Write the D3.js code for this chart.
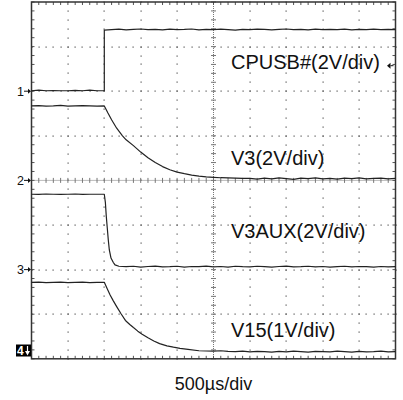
<!DOCTYPE html>
<html><head><meta charset="utf-8">
<script src="https://cdn.jsdelivr.net/npm/d3@7"></script>
<style>body{margin:0;background:#fff}svg{display:block}</style>
</head><body>
<svg id="c" width="403" height="400"></svg>
<script>
// ---- data ----
const channelLabels = ["CPUSB#(2V/div)", "V3(2V/div)", "V3AUX(2V/div)", "V15(1V/div)"];
const channelMarkers = ["1", "2", "3", "4"];
const voltsPerDiv = [2, 2, 2, 1];
const groundDiv = [2, 0, -2, -4];
const timeLabel = "500µs/div";
const timeDomain = [-1000, 4000]; // µs, 10 div x 500µs

const ch1T = [-1000,-900,-800,-700,-600,-500,-400,-300,-200,-100,0,0,100,200,300,400,500,600,700,800,900,1000,1100,1200,1300,1400,1500,1600,1700,1800,1900,2000,2100,2200,2300,2400,2500,2600,2700,2800,2900,3000,3100,3200,3300,3400,3500,3600,3700,3800,3900,4000];
const ch1V = [0.02,0.05,0.02,0.03,0.02,0.02,0.04,0.02,0.05,0.02,0.02,2.74,
  2.76,2.78,2.75,2.77,2.79,2.76,2.77,2.75,2.78,2.76,
  2.77,2.79,2.75,2.77,2.76,2.78,2.76,2.74,2.77,2.76,
  2.78,2.77,2.75,2.77,2.79,2.76,2.77,2.75,2.78,2.76,
  2.77,2.76,2.78,2.75,2.77,2.76,2.78,2.76,2.77,2.76];

const ch2T = [-1000,-900,-800,-700,-600,-500,-400,-300,-200,-100,0,50,100,170,250,300,400,500,600,700,800,900,1000,1100,1200,1300,1400,1500,1600,1700,1800,1900,2000,2100,2200,2300,2400,2500,2600,2700,2800,2900,3000,3100,3200,3300,3400,3500,3600,3700,3800,3900,4000];
const ch2V = [3.34,3.35,3.33,3.34,3.36,3.33,3.34,3.35,3.34,3.33,
  3.34,3.02,2.72,2.34,2.0,1.82,1.56,
  1.27,1.02,0.80,0.62,0.48,0.37,0.30,0.24,0.19,0.16,0.14,0.12,0.11,0.10,0.09,
  0.09,0.06,0.10,0.07,0.11,0.08,0.05,0.10,0.08,0.11,0.07,0.09,0.06,0.10,0.08,0.11,0.07,0.09,0.10,0.07,0.09];

const ch3T = [-1000,-900,-800,-700,-600,-500,-400,-300,-200,-100,0,15,27,40,55,69,92,124,147,200,300,400,500,600,700,800,900,1000,1100,1200,1300,1400,1500,1600,1700,1800,1900,2000,2100,2200,2300,2400,2500,2600,2700,2800,2900,3000,3100,3200,3300,3400,3500,3600,3700,3800,3900,4000];
const ch3V = [3.38,3.37,3.39,3.38,3.37,3.38,3.39,3.37,3.38,3.38,
  3.38,3.0,2.40,1.9,1.33,0.88,0.52,0.32,0.21,0.15,
  0.13,0.15,0.11,0.14,0.16,0.12,0.13,0.15,0.11,0.14,
  0.13,0.16,0.12,0.14,0.11,0.15,0.13,0.12,0.15,0.13,
  0.11,0.14,0.16,0.12,0.13,0.15,0.12,0.14,0.11,0.13,
  0.15,0.12,0.14,0.13,0.11,0.14,0.12,0.13];

const ch4T = [-1000,-900,-800,-700,-600,-500,-400,-300,-200,-100,0,40,80,120,170,230,290,350,400,460,520,600,680,760,860,950,1040,1150,1300,1400,1500,1600,1700,1800,1900,2000,2100,2200,2300,2400,2500,2600,2700,2800,2900,3000,3100,3200,3300,3400,3500,3600,3700,3800,3900,4000];
const ch4V = [1.715,1.72,1.71,1.715,1.72,1.71,1.715,1.72,1.71,1.715,
  1.715,1.57,1.43,1.31,1.17,1.01,0.86,0.77,0.70,0.62,0.55,0.47,0.40,0.34,0.29,0.26,0.235,0.21,0.18,
  0.175,0.17,0.18,0.165,0.16,0.17,0.155,0.165,0.16,0.15,
  0.165,0.155,0.17,0.16,0.15,0.165,0.16,0.155,0.17,0.16,
  0.15,0.165,0.155,0.16,0.17,0.155,0.16];

const traces = [[ch1T,ch1V],[ch2T,ch2V],[ch3T,ch3V],[ch4T,ch4V]];

// ---- drawing ----
const svg = d3.select("#c");
const L = 31.5, R = 395.5, T = 2, B = 358.8;
const x = d3.scaleLinear().domain(timeDomain).range([L, R]);
const y = d3.scaleLinear().domain([-4, 4]).range([B, T]);
const majorT = d3.range(-1000, 4001, 500);
const minorT = d3.range(-1000, 4001, 100);
const majorD = d3.range(-4, 5, 1);
const minorD = d3.range(0, 41).map(i => -4 + i * 0.2);
const centerT = 1500;
const font = "'Liberation Sans', Arial, sans-serif";

const grid = svg.append("g").attr("fill", "#555");
majorT.filter(t => t > -1000 && t < 4000 && t !== centerT).forEach(t => {
  minorD.forEach(d => grid.append("rect").attr("x", Math.round(x(t)) - 0.5).attr("y", Math.round(y(d)) - 0.5).attr("width", 1.2).attr("height", 1.2));
});
majorD.filter(d => d > -4 && d < 4 && d !== 0).forEach(d => {
  minorT.forEach(t => grid.append("rect").attr("x", Math.round(x(t)) - 0.5).attr("y", Math.round(y(d)) - 0.5).attr("width", 1.2).attr("height", 1.2));
});

// centre cross lines
const cg = svg.append("g").attr("stroke", "#777").attr("stroke-width", 1);
cg.append("line").attr("x1", L).attr("x2", R).attr("y1", y(0)).attr("y2", y(0)).attr("stroke-dasharray", "1,1");
cg.append("line").attr("x1", x(centerT)).attr("x2", x(centerT)).attr("y1", T).attr("y2", B).attr("stroke-dasharray", "1,1");
minorT.forEach(t => cg.append("line").attr("x1", x(t)).attr("x2", x(t)).attr("y1", y(0) - 2.5).attr("y2", y(0) + 2.5));
minorD.forEach(d => cg.append("line").attr("x1", x(centerT) - 2.5).attr("x2", x(centerT) + 2.5).attr("y1", y(d)).attr("y2", y(d)));

// frame ticks
const fg = svg.append("g").attr("stroke", "#555").attr("stroke-width", 1);
minorT.forEach(t => {
  fg.append("line").attr("x1", x(t)).attr("x2", x(t)).attr("y1", T).attr("y2", T + 3);
  fg.append("line").attr("x1", x(t)).attr("x2", x(t)).attr("y1", B).attr("y2", B - 3);
});
minorD.forEach(d => {
  fg.append("line").attr("x1", L).attr("x2", L + 3).attr("y1", y(d)).attr("y2", y(d));
  fg.append("line").attr("x1", R).attr("x2", R - 3).attr("y1", y(d)).attr("y2", y(d));
});
svg.append("rect").attr("x", L).attr("y", T).attr("width", R - L).attr("height", B - T)
  .attr("fill", "none").attr("stroke", "#333").attr("stroke-width", 1.5);

// traces
traces.forEach(([ts, vs], i) => {
  const pts = ts.map((t, k) => [t, vs[k]]);
  const line = d3.line().x(d => x(d[0])).y(d => y(d[1] / voltsPerDiv[i] + groundDiv[i]));
  svg.append("path").datum(pts).attr("d", line).attr("fill", "none")
    .attr("stroke", "#222").attr("stroke-width", 1.2).attr("stroke-linejoin", "round");
});

// labels
const labelY = [69, 165, 238, 337];
channelLabels.forEach((s, i) => {
  svg.append("text").attr("x", 231).attr("y", labelY[i]).text(s)
    .attr("font-family", font).attr("font-size", 20).attr("fill", "#111");
});
svg.append("text").attr("x", x(centerT)).attr("y", 390).attr("text-anchor", "middle").text(timeLabel)
  .attr("font-family", font).attr("font-size", 18).attr("fill", "#111");

// ground markers
[0, 1, 2].forEach(i => {
  const gy = y(groundDiv[i]);
  svg.append("text").attr("x", 17).attr("y", gy + 4.5).text(channelMarkers[i])
    .attr("font-family", font).attr("font-size", 12.5).attr("fill", "#111");
  svg.append("line").attr("x1", 24).attr("x2", 29).attr("y1", gy).attr("y2", gy).attr("stroke", "#111").attr("stroke-width", 1);
  svg.append("path").attr("d", `M${L - 0.5},${gy} L${L - 3.5},${gy - 2.5} L${L - 3.5},${gy + 2.5} Z`).attr("fill", "#111");
});
// channel 4 marker (off-screen ground)
svg.append("rect").attr("x", 16).attr("y", 344.5).attr("width", 15).attr("height", 12).attr("fill", "#000");
svg.append("text").attr("x", 17).attr("y", 355).text(channelMarkers[3])
  .attr("font-family", font).attr("font-weight", "bold").attr("font-size", 12).attr("fill", "#fff");
svg.append("line").attr("x1", 27.5).attr("x2", 27.5).attr("y1", 346).attr("y2", 352).attr("stroke", "#fff").attr("stroke-width", 1.2);
svg.append("path").attr("d", "M27.5,355.5 L25,351 L30,351 Z").attr("fill", "#fff");

// trigger level marker (right edge)
const trigY = 65.7;
svg.append("path").attr("d", `M${R - 8.5},${trigY} L${R - 5},${trigY - 3} L${R - 5},${trigY + 3} Z`).attr("fill", "#111");
svg.append("line").attr("x1", R - 5).attr("x2", R - 2).attr("y1", trigY).attr("y2", trigY).attr("stroke", "#111");
</script>
</body></html>
